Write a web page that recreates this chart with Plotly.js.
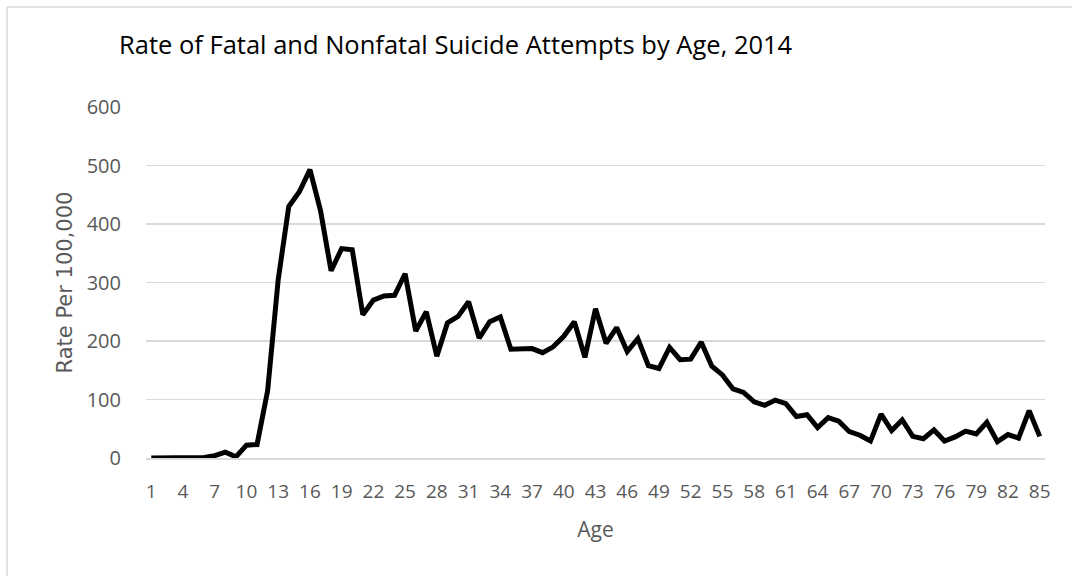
<!DOCTYPE html>
<html>
<head>
<meta charset="utf-8">
<script src="https://cdn.plot.ly/plotly-3.0.1.min.js"></script>
<style>html,body{margin:0;padding:0;background:#fff;}#chart{width:1072px;height:576px;}</style>
</head>
<body>
<div id="chart"></div>
<script>
const ages = Array.from({length: 85}, (_, i) => i + 1);
const rates = [0,0,0,0,0,1,4,10,2,22,23,115,305,430,455,493,423,320,358,356,
  245,270,277,278,315,217,250,174,231,242,267,205,233,241,186,186,187,180,190,208,
  233,172,255,196,223,182,204,158,153,189,168,169,198,157,142,118,112,96,90,99,
  93,71,74,52,69,63,45,39,29,75,47,65,37,33,48,29,36,46,41,61,
  28,40,34,81,37];
const tickAges = [1,4,7,10,13,16,19,22,25,28,31,34,37,40,43,46,49,52,55,58,61,64,67,70,73,76,79,82,85];
const yTicks = [0,100,200,300,400,500,600];

const trace = {
  x: ages, y: rates, type: 'scatter', mode: 'lines',
  line: {color: '#000000', width: 5},
  hoverinfo: 'skip'
};

const pl = 146, pr = 1045, pt = 107, pb = 458.3;
const px = v => (v - pl) / (pr - pl);
const py = v => (pb - v) / (pb - pt);

const layout = {
  width: 1072, height: 576,
  margin: {l: 146, r: 27, t: 107, b: 118},
  paper_bgcolor: '#ffffff', plot_bgcolor: '#ffffff',
  showlegend: false,
  title: {
    text: 'Rate of Fatal and Nonfatal Suicide Attempts by Age, 2014',
    font: {family: 'Open Sans, sans-serif', size: 25.5, color: '#000000'},
    xref: 'container', yref: 'container',
    x: 119/1072, xanchor: 'left', y: 1 - 45/576, yanchor: 'middle'
  },
  xaxis: {
    range: [0.5, 85.5],
    tickmode: 'array', tickvals: tickAges, ticktext: tickAges.map(String),
    tickfont: {family: 'Open Sans, sans-serif', size: 19, color: '#595959'},
    ticks: 'outside', ticklen: 16, tickcolor: 'rgba(0,0,0,0)',
    showgrid: false, zeroline: false,
    showline: true, linecolor: '#d9d9d9', linewidth: 1.5,
    title: {text: 'Age', font: {family: 'Open Sans, sans-serif', size: 21, color: '#595959'}, standoff: 19}
  },
  yaxis: {
    range: [0, 600],
    tickmode: 'array', tickvals: yTicks, ticktext: yTicks.map(String),
    tickfont: {family: 'Open Sans, sans-serif', size: 20, color: '#595959'},
    ticks: 'outside', ticklen: 20, tickcolor: 'rgba(0,0,0,0)',
    showgrid: true, gridcolor: '#d9d9d9', gridwidth: 1.5,
    zeroline: false, showline: false,
    title: {text: 'Rate Per 100,000', font: {family: 'DejaVu Sans, sans-serif', size: 21, color: '#595959'}, standoff: 8}
  },
  shapes: [
    {type: 'line', xref: 'paper', yref: 'paper', x0: px(7), x1: px(1090), y0: py(7), y1: py(7),
     line: {color: '#d9d9d9', width: 1.5}, layer: 'below'},
    {type: 'line', xref: 'paper', yref: 'paper', x0: px(7), x1: px(7), y0: py(7), y1: py(600),
     line: {color: '#d9d9d9', width: 1.5}, layer: 'below'}
  ]
};

Plotly.newPlot('chart', [trace], layout, {staticPlot: true, displayModeBar: false});
</script>
</body>
</html>
